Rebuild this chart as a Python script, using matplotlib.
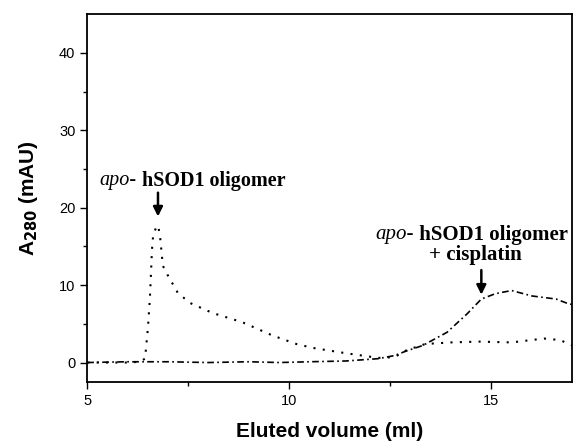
import matplotlib
matplotlib.use('Agg')
import matplotlib.pyplot as plt

# apo-hSOD1 oligomer (dotted)
vol_oligo = [5.0, 5.5, 6.0, 6.3, 6.43, 6.5, 6.55, 6.58, 6.6, 6.63, 6.7, 6.75, 6.8, 6.87, 7.0,
             7.24, 7.54, 8.1, 8.84, 9.58, 10.17, 10.57, 11.4, 12.2, 12.6, 12.9, 13.37,
             14.0, 14.7, 15.5, 16.3, 16.7, 17.0]
abs_oligo = [0.0, 0.0, 0.0, 0.1, 0.5, 4.4, 8.3, 11.9, 14.5, 16.4, 17.4, 17.7, 16.4, 12.5, 11.2,
             9.0, 7.7, 6.4, 5.2, 3.5, 2.4, 1.9, 1.2, 0.6, 0.7, 1.6, 2.4,
             2.6, 2.7, 2.6, 3.1, 2.9, 2.2]

# apo-hSOD1 oligomer + cisplatin (dash-dot)
vol_cis = [5.0, 6.0, 7.0, 8.0, 9.0, 9.75, 10.5, 11.4, 12.2, 12.6, 12.9, 13.3, 13.9, 14.4,
           14.75, 15.1, 15.5, 16.0, 16.3, 16.6, 16.9, 17.0]
abs_cis = [0.0, 0.1, 0.1, 0.0, 0.1, 0.0, 0.1, 0.2, 0.5, 0.9, 1.5, 2.2, 3.9, 6.3,
           8.2, 8.9, 9.3, 8.6, 8.4, 8.2, 7.6, 7.5]

fig, ax = plt.subplots(figsize=(5.74, 4.42), dpi=100)
fig.subplots_adjust(left=0.152, right=0.997, top=0.968, bottom=0.136)

ax.plot(vol_oligo, abs_oligo, color='black', lw=1.5, linestyle=(0, (1, 3.5)))
ax.plot(vol_cis, abs_cis, color='black', lw=1.2, linestyle=(0, (4, 2, 1, 2)))

ax.set_xlim(5, 17)
ax.set_ylim(-2.5, 45)
ax.set_xticks([5, 10, 15])
ax.set_xticks([7.5, 12.5], minor=True)
ax.set_yticks([0, 10, 20, 30, 40])
ax.set_yticks([5, 15, 25, 35], minor=True)
ax.tick_params(which='major', direction='out', length=5, width=1, labelsize=10.5)
ax.tick_params(which='minor', direction='out', length=3, width=1)
for lab in ax.get_xticklabels() + ax.get_yticklabels():
    lab.set_fontfamily('Liberation Sans')
for s in ax.spines.values():
    s.set_linewidth(1.3)

ax.set_xlabel('Eluted volume (ml)', fontsize=15, fontweight='bold',
              family='Liberation Sans', labelpad=10)
ax.set_ylabel('A$_{\\mathbf{280}}$ (mAU)', fontsize=15, fontweight='bold',
              family='Liberation Sans', labelpad=14)

serif = 'Liberation Serif'
fs = 14.5
ax.text(6.23, 23.5, 'apo-', style='italic', ha='right', va='center',
        fontsize=fs, family=serif)
ax.text(6.23, 23.5, ' hSOD1 oligomer', fontweight='bold', ha='left', va='center',
        fontsize=fs, family=serif)
ax.annotate('', xy=(6.75, 18.5), xytext=(6.75, 22.3),
            arrowprops=dict(arrowstyle='-|>', color='black', lw=1.8, mutation_scale=14))

fs2 = 15
ax.text(13.08, 16.5, 'apo-', style='italic', ha='right', va='center',
        fontsize=fs2, family=serif)
ax.text(13.08, 16.5, ' hSOD1 oligomer', fontweight='bold', ha='left', va='center',
        fontsize=fs2, family=serif, clip_on=False)
ax.text(14.6, 13.9, '+ cisplatin', fontweight='bold', ha='center', va='center',
        fontsize=fs2, family=serif)
ax.annotate('', xy=(14.75, 8.4), xytext=(14.75, 12.3),
            arrowprops=dict(arrowstyle='-|>', color='black', lw=1.8, mutation_scale=14))

fig.savefig('out.png', dpi=100)
